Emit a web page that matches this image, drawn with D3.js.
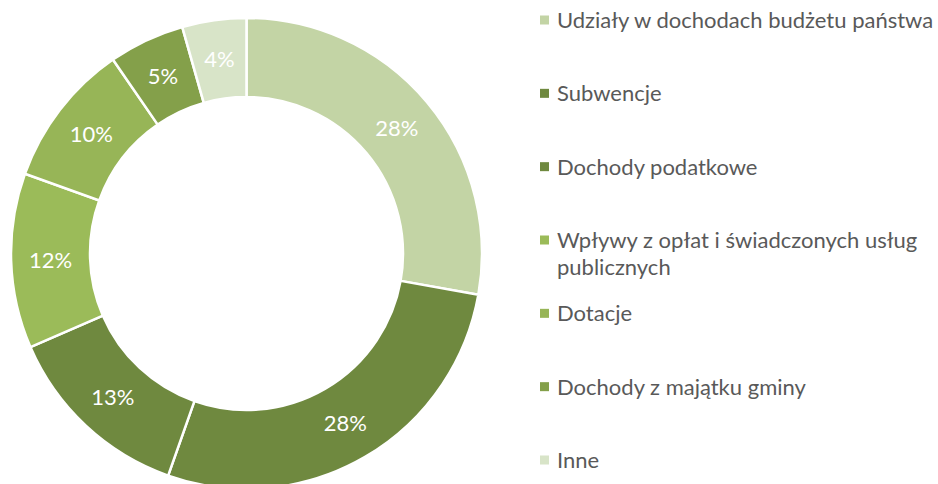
<html>
<head>
	<meta charset="utf-8">
	<title>dochody gminy</title>
	<script src="https://d3js.org/d3.v7.min.js"></script>
	<style type="text/css">
		body{ margin:0; background:white; }
		text{ font-family: Lato, "Open Sans", sans-serif; }
		.legend text{ fill:#595959; font-size:22px; }
		.slice-label{ fill:white; font-size:22px; }
	</style>
</head>
<body>
	<script type="text/javascript">
		// dane (udział w %)
		var categories = ["Udziały w dochodach budżetu państwa", "Subwencje", "Dochody podatkowe",
			"Wpływy z opłat i świadczonych usług publicznych", "Dotacje", "Dochody z majątku gminy", "Inne"];
		var values = [27.8, 27.6, 13.1, 12.0, 9.9, 5.2, 4.4];
		var labels = ["28%", "28%", "13%", "12%", "10%", "5%", "4%"];
		var colors = ["#c3d4a5", "#6f893f", "#6f893f", "#9bbb59", "#97b557", "#84a04a", "#d8e4c8"];
		// zawinięte linie legendy
		var legendLines = [["Udziały w dochodach budżetu państwa"], ["Subwencje"], ["Dochody podatkowe"],
			["Wpływy z opłat i świadczonych usług", "publicznych"], ["Dotacje"], ["Dochody z majątku gminy"], ["Inne"]];

		var w = 938;
		var h = 484;
		var cx = 246.5, cy = 253.5;
		var outerR = 235.5, innerR = 156.5;

		var svg = d3.select("body").append("svg")
			.attr("width", w)
			.attr("height", h);

		var data = categories.map(function(c, i){
			return {name: c, value: values[i], label: labels[i], color: colors[i]};
		});

		var pie = d3.pie()
			.sort(null)
			.value(function(d){ return d.value; });

		var arc = d3.arc()
			.innerRadius(innerR)
			.outerRadius(outerR);

		var g = svg.append("g")
			.attr("transform", "translate(" + cx + "," + cy + ")");

		var arcs = pie(data);

		g.selectAll("path")
			.data(arcs)
			.enter()
			.append("path")
			.attr("d", arc)
			.attr("fill", function(d){ return d.data.color; })
			.attr("stroke", "white")
			.attr("stroke-width", 2.5);

		g.selectAll("text.slice-label")
			.data(arcs)
			.enter()
			.append("text")
			.attr("class", "slice-label")
			.attr("transform", function(d){ return "translate(" + arc.centroid(d) + ")"; })
			.attr("text-anchor", "middle")
			.attr("dy", "0.36em")
			.text(function(d){ return d.data.label; });

		// legenda
		var rowY = d3.scaleLinear()
			.domain([0, categories.length - 1])
			.range([20, 460]);

		var legend = svg.append("g")
			.attr("class", "legend");

		var item = legend.selectAll("g")
			.data(data)
			.enter()
			.append("g")
			.attr("transform", function(d, i){ return "translate(540," + rowY(i) + ")"; });

		item.append("rect")
			.attr("x", 0)
			.attr("y", -4.5)
			.attr("width", 9)
			.attr("height", 9)
			.attr("fill", function(d){ return d.color; });

		item.append("text")
			.attr("x", 17)
			.attr("y", 0)
			.selectAll("tspan")
			.data(function(d, i){ return legendLines[i]; })
			.enter()
			.append("tspan")
			.attr("x", 17)
			.attr("dy", function(d, j){ return j === 0 ? "0.36em" : "27px"; })
			.text(function(d){ return d; });
	</script>
</body>
</html>
